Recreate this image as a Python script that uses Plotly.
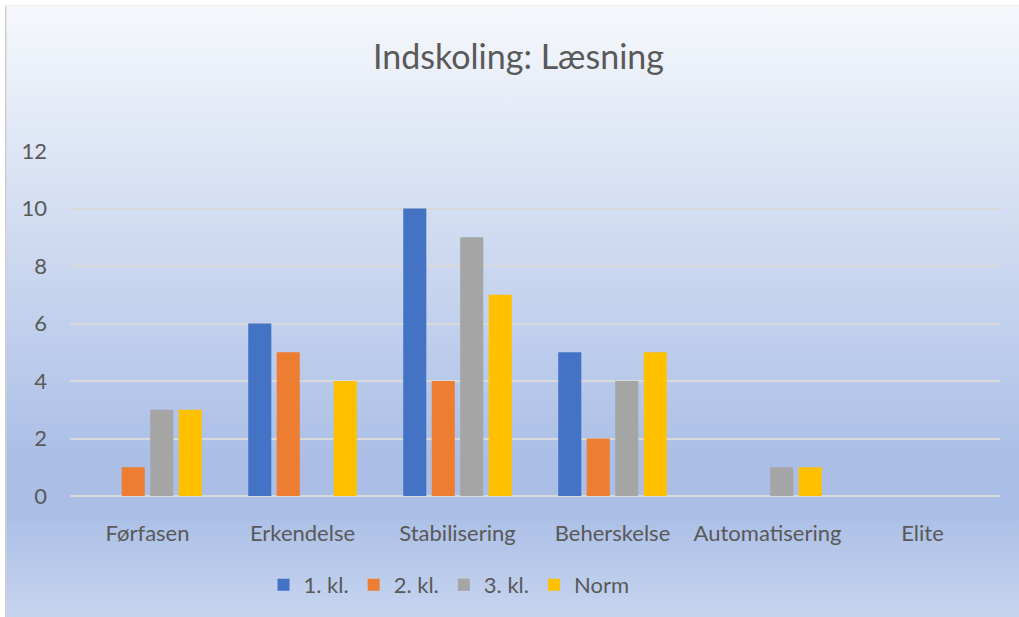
import base64
import plotly.graph_objects as go

categories = ["Førfasen", "Erkendelse", "Stabilisering", "Beherskelse", "Automatisering", "Elite"]
kl1 = [0, 6, 10, 5, 0, 0]
kl2 = [1, 5, 4, 2, 0, 0]
kl3 = [3, 0, 9, 4, 1, 0]
norm = [3, 4, 7, 5, 1, 0]
series_names = ["1. kl.", "2. kl.", "3. kl.", "Norm"]
series_values = [kl1, kl2, kl3, norm]
colors = ["#4472C4", "#ED7D31", "#A5A5A5", "#FFC000"]
y_ticks = [0, 2, 4, 6, 8, 10, 12]

W, H = 1019, 617
L, R, T, B = 70, 19, 151, 121
pw, ph = W - L - R, H - T - B

svg = (
    '<svg xmlns="http://www.w3.org/2000/svg" width="1014" height="612" preserveAspectRatio="none" viewBox="0 0 1014 612">'
    '<defs><linearGradient id="g" x1="0" y1="0" x2="0" y2="1">'
    '<stop offset="0" stop-color="#f6f8fc"/>'
    '<stop offset="0.74" stop-color="#abbfe6"/>'
    '<stop offset="0.83" stop-color="#abbfe6"/>'
    '<stop offset="1" stop-color="#c6d4ee"/>'
    '</linearGradient></defs>'
    '<rect x="0" y="0" width="1014" height="612" fill="url(#g)"/>'
    '<line x1="0.75" y1="0" x2="0.75" y2="612" stroke="#d0d0d0" stroke-width="1.5"/>'
    '<line x1="0" y1="0.5" x2="1014" y2="0.5" stroke="#eeeeee" stroke-width="1"/>'
    '</svg>'
)
src = "data:image/svg+xml;base64," + base64.b64encode(svg.encode()).decode()

fig = go.Figure()
for name, vals, c in zip(series_names, series_values, colors):
    fig.add_trace(go.Bar(x=categories, y=vals, name=name, marker=dict(color=c, line=dict(width=0))))

font_family = "Lato, 'Open Sans', sans-serif"
fig.update_layout(
    width=W, height=H,
    margin=dict(l=L, r=R, t=T, b=B, pad=0),
    paper_bgcolor="white",
    plot_bgcolor="rgba(0,0,0,0)",
    barmode="group",
    bargap=0.265,
    bargroupgap=0.19,
    font=dict(family=font_family, color="#595959", size=22),
    title=dict(text="Indskoling: Læsning", x=(372 + 665) / 2 / W, xanchor="center",
               y=1 - 57 / H, yanchor="middle", yref="container",
               font=dict(family=font_family, size=34, color="#595959")),
    legend=dict(orientation="h", xref="container", yref="container",
                x=449 / W, xanchor="center", y=1 - 585 / H, yanchor="middle",
                font=dict(size=22, color="#595959"), bgcolor="rgba(0,0,0,0)",
                itemwidth=30, tracegroupgap=0),
    images=[dict(source=src, xref="paper", yref="paper",
                 x=(5 - L) / pw, y=(H - B - 5) / ph, sizex=(W - 5) / pw, sizey=(H - 5) / ph,
                 xanchor="left", yanchor="top", sizing="stretch", layer="below")],
    showlegend=True,
)
fig.update_xaxes(showgrid=False, showline=False, zeroline=False, ticks="",
                 ticklabelstandoff=22, tickfont=dict(size=22, color="#595959"))
fig.update_yaxes(range=[0, 12], tickvals=y_ticks, showgrid=True, gridcolor="#d9d9d9", gridwidth=1.5,
                 zeroline=True, zerolinecolor="#d9d9d9", zerolinewidth=1.5, showline=False, ticks="",
                 ticklabelstandoff=22, tickfont=dict(size=22, color="#595959"))

fig.write_html("out.html", config={"displayModeBar": False},
               post_script="document.body.style.margin='0';document.body.style.overflow='hidden';")
